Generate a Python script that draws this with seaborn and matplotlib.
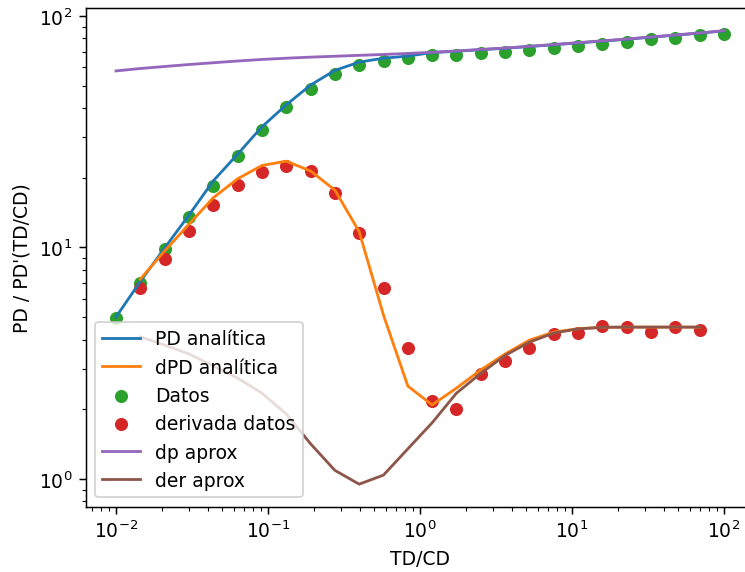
import matplotlib
matplotlib.use("Agg")
import matplotlib.pyplot as plt
import seaborn as sns

# Dimensionless time TD/CD (26 points)
td = [0.01, 0.01445, 0.02089, 0.0302, 0.04365, 0.0631, 0.0912, 0.1318, 0.1905,
      0.2754, 0.3981, 0.5754, 0.8318, 1.2023, 1.7378, 2.5119, 3.6308, 5.2481,
      7.5858, 10.965, 15.849, 22.909, 33.113, 47.863, 69.183, 100.0]

# PD analitica (blue)
pd_analitica = [5.01, 7.13, 9.95, 13.8, 19.4, 25.3, 33.2, 41.3, 50.3, 58.2, 63.2,
                65.7, 67.1, 69.5, 70.4, 71.5, 72.5, 73.8, 75.1, 76.5, 77.9, 79.3,
                81.0, 82.6, 84.3, 86.2]

# dp aprox (purple)
dp_aprox = [57.9, 59.3, 60.5, 61.7, 62.8, 63.9, 64.9, 65.7, 66.4, 67.0, 67.6,
            68.2, 68.9, 69.7, 70.6, 71.7, 72.7, 74.0, 75.3, 76.7, 78.1, 79.5,
            81.2, 82.8, 84.5, 86.4]

# Datos (green)
datos = [4.95, 7.03, 9.86, 13.5, 18.5, 24.9, 32.2, 40.6, 48.4, 56.1, 61.6, 63.9,
         65.9, 68.1, 67.9, 69.0, 69.7, 71.5, 72.5, 74.4, 75.7, 77.4, 79.5, 80.4,
         82.8, 83.6]

# Derivative series (defined on interior points td[1:-1])
td_der = td[1:-1]
dpd_analitica = [7.3, 9.66, 12.6, 16.4, 19.8, 22.6, 23.6, 21.4, 17.7, 11.7, 5.1,
                 2.52, 2.09, 2.47, 2.96, 3.47, 3.98, 4.31, 4.46, 4.52, 4.53, 4.53,
                 4.53, 4.53]
derivada_datos = [6.68, 8.92, 11.8, 15.3, 18.6, 21.2, 22.5, 21.4, 17.2, 11.6, 6.68,
                  3.68, 2.17, 2.01, 2.84, 3.23, 3.68, 4.23, 4.27, 4.58, 4.53, 4.31,
                  4.53, 4.40]
der_aprox = [4.11, 3.79, 3.47, 3.08, 2.73, 2.35, 1.91, 1.42, 1.09, 0.95, 1.04,
             1.35, 1.75, 2.35, 2.86, 3.42, 3.90, 4.27, 4.45, 4.52, 4.53, 4.53,
             4.53, 4.53]

DPI = 134.7
fig = plt.figure(figsize=(745 / DPI, 573 / DPI), dpi=DPI)
ax = fig.add_axes([85.6 / 745, 65.2 / 573, 668.8 / 745, 498.7 / 573])
ax.set_xscale("log")
ax.set_yscale("log")

sns.lineplot(x=td, y=pd_analitica, ax=ax, color="C0", label="PD analítica",
             estimator=None, sort=False, linewidth=1.5)
sns.lineplot(x=td_der, y=dpd_analitica, ax=ax, color="C1", label="dPD analítica",
             estimator=None, sort=False, linewidth=1.5)
sns.scatterplot(x=td, y=datos, ax=ax, color="C2", label="Datos", s=49, linewidth=0)
sns.scatterplot(x=td_der, y=derivada_datos, ax=ax, color="C3", label="derivada datos",
                s=49, linewidth=0)
sns.lineplot(x=td, y=dp_aprox, ax=ax, color="C4", label="dp aprox",
             estimator=None, sort=False, linewidth=1.5)
sns.lineplot(x=td_der, y=der_aprox, ax=ax, color="C5", label="der aprox",
             estimator=None, sort=False, linewidth=1.5)

ax.set_xlim(10 ** -2.2, 10 ** 2.2)
ax.set_ylim(10 ** -0.120, 10 ** 2.034)
ax.spines["right"].set_visible(False)

ax.set_xlabel("TD/CD")
ax.set_ylabel("PD / PD'(TD/CD)")
ax.legend(loc="lower left")

fig.savefig("out.png", dpi=DPI)
